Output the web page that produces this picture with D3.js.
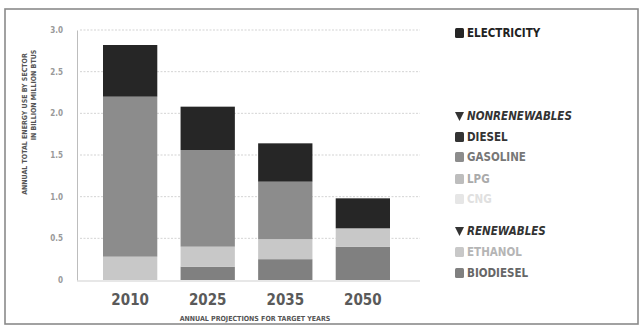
<!DOCTYPE html>
<html><head><meta charset="utf-8">
<script src="https://cdn.jsdelivr.net/npm/d3@7"></script>
<style>
body{margin:0;background:#fff;}
svg{display:block;}
text{font-family:"DejaVu Sans Condensed","DejaVu Sans",sans-serif;}
</style></head>
<body><svg id="c" width="644" height="328"></svg>
<script>
const years = ["2010","2025","2035","2050"];
const biodiesel = [0, 0.16, 0.25, 0.40];
const ethanol = [0.28, 0.24, 0.24, 0.22];
const gasoline = [1.92, 1.16, 0.69, 0];
const electricity = [0.62, 0.52, 0.46, 0.36];
const yTicks = [0, 0.5, 1.0, 1.5, 2.0, 2.5, 3.0];
const yTickLabels = ["0","0.5","1.0","1.5","2.0","2.5","3.0"];
const legendItems = [
  {label:"ELECTRICITY", type:"sq", key:"electricity"},
  {label:"NONRENEWABLES", type:"head"},
  {label:"DIESEL", type:"sq", key:"diesel"},
  {label:"GASOLINE", type:"sq", key:"gasoline"},
  {label:"LPG", type:"sq", key:"lpg"},
  {label:"CNG", type:"sq", key:"cng"},
  {label:"RENEWABLES", type:"head"},
  {label:"ETHANOL", type:"sq", key:"ethanol"},
  {label:"BIODIESEL", type:"sq", key:"biodiesel"}
];

const colors = {electricity:"#262626", diesel:"#333333", gasoline:"#8c8c8c", lpg:"#bdbdbd", cng:"#e6e6e6", ethanol:"#c8c8c8", biodiesel:"#808080"};
const textColors = {electricity:"#222", diesel:"#333", gasoline:"#777", lpg:"#aaa", cng:"#e0e0e0", ethanol:"#b5b5b5", biodiesel:"#666"};

const svg = d3.select("#c");
// frame
svg.append("rect").attr("x",5).attr("y",9).attr("width",633).attr("height",315)
  .attr("fill","none").attr("stroke","#8a8a8a").attr("stroke-width",1.6);

const y = d3.scaleLinear().domain([0,3]).range([280,30]);
const x = d3.scaleBand().domain(years).range([103,390]).paddingInner(0.3).paddingOuter(0);

// gridlines
svg.append("g").selectAll("line").data(yTicks.filter(d=>d>0)).join("line")
  .attr("x1",80).attr("x2",420).attr("y1",d=>y(d)).attr("y2",d=>y(d))
  .attr("stroke","#c8c8c8").attr("stroke-width",0.8).attr("stroke-dasharray","2,1.5");

// y axis
const yAxis = d3.axisLeft(y).tickValues(yTicks).tickFormat((d,i)=>yTickLabels[i]).tickSize(0).tickPadding(14);
const ga = svg.append("g").attr("transform","translate(77,0)").call(yAxis);
ga.select(".domain").attr("stroke","#bdbdbd").attr("stroke-width",1);
ga.selectAll("text").attr("fill","#999").attr("font-size",8).attr("font-weight","bold")
  .style("font-family","'DejaVu Sans Condensed',sans-serif");

// baseline
svg.append("line").attr("x1",77).attr("x2",420).attr("y1",y(0)+1).attr("y2",y(0)+1)
  .attr("stroke","#d0d0d0").attr("stroke-width",1.2);

// stacked bars
const table = years.map((yr,i)=>({year:yr, biodiesel:biodiesel[i], ethanol:ethanol[i], gasoline:gasoline[i], electricity:electricity[i]}));
const keys = ["biodiesel","ethanol","gasoline","electricity"];
const stack = d3.stack().keys(keys)(table);
svg.append("g").selectAll("g").data(stack).join("g")
  .attr("fill",d=>colors[d.key])
  .selectAll("rect").data(d=>d).join("rect")
  .attr("x",d=>x(d.data.year)).attr("width",x.bandwidth())
  .attr("y",d=>y(d[1])).attr("height",d=>Math.max(0,y(d[0])-y(d[1])));

// x axis labels
const xAxis = d3.axisBottom(x).tickSize(0).tickPadding(12);
const gx = svg.append("g").attr("transform","translate(0,282)").call(xAxis);
gx.select(".domain").remove();
gx.selectAll("text").attr("fill","#5a5a5a").attr("font-size",15).attr("font-weight","bold")
  .style("font-family","'DejaVu Sans Condensed',sans-serif");

// axis titles
svg.append("text").attr("x",255).attr("y",321).attr("text-anchor","middle")
  .attr("font-size",7).attr("font-weight","bold").attr("fill","#555")
  .text("ANNUAL PROJECTIONS FOR TARGET YEARS");
svg.append("text").attr("transform","translate(27,124) rotate(-90)").attr("text-anchor","middle")
  .attr("font-size",7).attr("font-weight","bold").attr("fill","#555")
  .text("ANNUAL TOTAL ENERGY USE BY SECTOR");
svg.append("text").attr("transform","translate(36,95) rotate(-90)").attr("text-anchor","middle")
  .attr("font-size",7).attr("font-weight","bold").attr("fill","#555")
  .text("IN BILLION MILLION BTUS");

// legend
const legY = [33, 116, 137, 157, 179, 199, 231, 252, 273];
const lg = svg.append("g");
legendItems.forEach((it,i)=>{
  const cy = legY[i];
  if(it.type==="sq"){
    lg.append("rect").attr("x",455).attr("y",cy-5).attr("width",9).attr("height",10).attr("rx",1.5)
      .attr("fill",colors[it.key]);
    lg.append("text").attr("x",467).attr("y",cy+4).attr("font-size",11.5).attr("font-weight","bold")
      .attr("fill",textColors[it.key]).text(it.label);
  } else {
    lg.append("path").attr("d",`M455,${cy-4}L464,${cy-4}L459.5,${cy+5}Z`).attr("fill","#333");
    lg.append("text").attr("x",467).attr("y",cy+4).attr("font-size",11.5).attr("font-weight","bold")
      .attr("font-style","italic").attr("fill","#333").text(it.label);
  }
});
</script></body></html>
